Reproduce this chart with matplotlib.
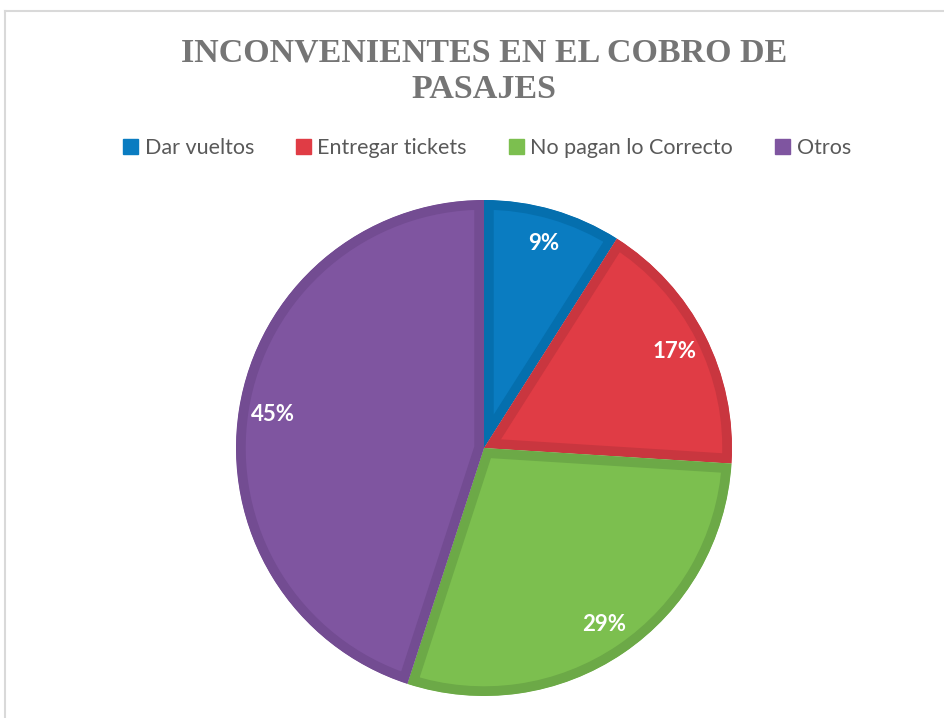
import matplotlib.pyplot as plt
from matplotlib.lines import Line2D
from matplotlib.patches import Patch

# Datos del grafico
categorias = ['Dar vueltos', 'Entregar tickets', 'No pagan lo Correcto', 'Otros']
porcentajes = [9, 17, 29, 45]
titulo = 'INCONVENIENTES EN EL COBRO DE\nPASAJES'

colores = ['#0A7CC1', '#E03C45', '#7CBF4F', '#7F55A0']
bordes = ['#056FAE', '#C9363F', '#6CA947', '#734C92']

W, H = 945, 718
fig = plt.figure(figsize=(W / 100, H / 100), dpi=100)

# Marco del area del grafico
marco = '#D9D9D9'
fig.add_artist(Line2D([5 / W, 1], [1 - 11 / H, 1 - 11 / H], color=marco, lw=1.5))
fig.add_artist(Line2D([5 / W, 5 / W], [0, 1 - 11 / H], color=marco, lw=1.5))

# Titulo
fig.text(484 / W, 1 - 71 / H, titulo, ha='center', va='center', fontsize=24.5,
         fontfamily='Liberation Serif', fontweight='bold', color='#757575',
         linespacing=1.25)

# Pie: centro (484, 448) px, radio 248 px
cx, cy, r = 484, 448, 248
ax = fig.add_axes([(cx - r) / W, (H - cy - r) / H, 2 * r / W, 2 * r / H])
wedges, textos, pcts = ax.pie(porcentajes, colors=colores, startangle=90, counterclock=False,
                              autopct='%.0f%%', pctdistance=0.86, radius=1,
                              wedgeprops={'linewidth': 14},
                              textprops={'color': 'white', 'fontsize': 16,
                                         'fontweight': 'bold', 'fontfamily': 'Lato'})
for w, b in zip(wedges, bordes):
    w.set_edgecolor(b)
    w.set_joinstyle('miter')
    w.set_clip_on(True)
    w.set_clip_path(w)   # borde solo hacia adentro
ax.set_xlim(-1, 1)
ax.set_ylim(-1, 1)
ax.set_aspect('equal')
ax.axis('off')

# Leyenda
handles = [Patch(facecolor=c, edgecolor=c) for c in colores]
fig.legend(handles, categorias, loc='center', bbox_to_anchor=(487 / W, 1 - 148 / H), ncol=4,
           frameon=False, handlelength=0.7, handleheight=0.7, handletextpad=0.3,
           columnspacing=1.95, prop={'family': 'Lato', 'size': 15.5}, labelcolor='#595959')

fig.savefig('out.png', dpi=100)
